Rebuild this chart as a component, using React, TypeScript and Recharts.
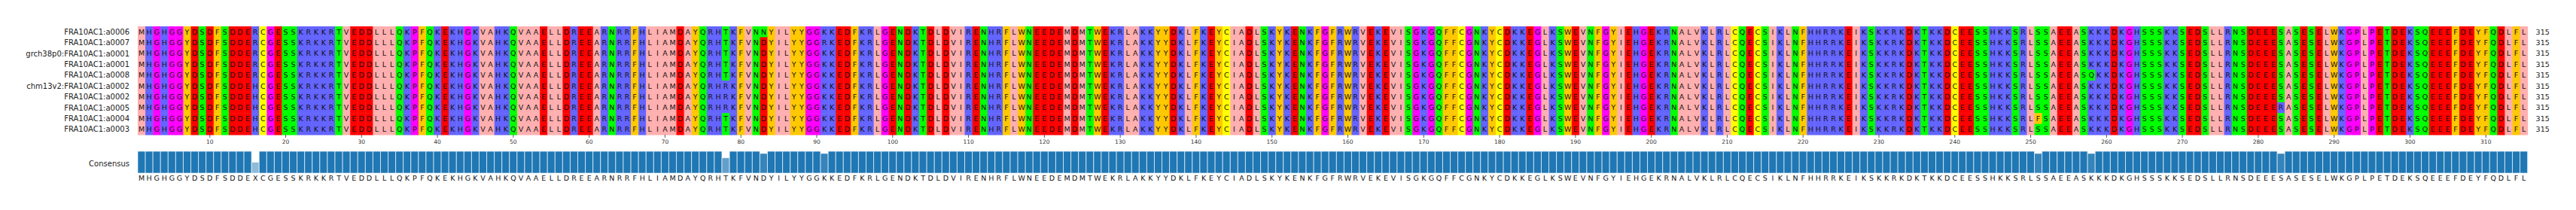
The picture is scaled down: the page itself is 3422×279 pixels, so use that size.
import React from 'react';
import { BarChart, Bar, XAxis, YAxis, Cell, LabelList } from 'recharts';

// alignment rows, top to bottom
const names = [
  'FRA10AC1:a0006',
  'FRA10AC1:a0007',
  'grch38p0:FRA10AC1:a0001',
  'FRA10AC1:a0001',
  'FRA10AC1:a0008',
  'chm13v2:FRA10AC1:a0002',
  'FRA10AC1:a0002',
  'FRA10AC1:a0005',
  'FRA10AC1:a0004',
  'FRA10AC1:a0003',
];

// sequence of the first row
const baseSeq =
  'MHGHGGYDSD' + 'FSDDERCGES' + 'SKRKKRTVED' + 'DLLLQKPFQK' + 'EKHGKVAHKQ' +
  'VAAELLDREE' + 'ARNRRFHLIA' + 'MDAYQRHTKF' + 'VNDYILYYGG' + 'KKEDFKRLGE' +
  'NDKTDLDVIR' + 'ENHRFLWNEE' + 'DEMDMTWEKR' + 'LAKKYYDKLF' + 'KEYCIADLSK' +
  'YKENKFGFRW' + 'RVEKEVISGK' + 'GQFFCGNKYC' + 'DKKEGLKSWE' + 'VNFGYIEHGE' +
  'KRNALVKLRL' + 'CQECSIKLNF' + 'HHRRKEIKSK' + 'KRKDKTKKDC' + 'EESSHKKSRL' +
  'SSAEEASKKK' + 'DKGHSSSKKS' + 'EDSLLRNSDE' + 'EESASESELW' + 'KGPLPETDEK' +
  'SQEEEFDEYF' + 'QDLFL';

// [row, position, residue] where a row differs from baseSeq
const variants: [number, number, string][] = [
  [5, 16, 'H'], [6, 16, 'H'], [7, 16, 'H'], [8, 16, 'H'], [9, 16, 'H'],
  [5, 78, 'R'], [6, 78, 'R'], [7, 78, 'R'],
  [0, 83, 'N'],
  [1, 91, 'R'],
  [8, 251, 'F'],
  [4, 258, 'Q'],
  [7, 283, 'R'],
];

// Zappo colour scheme
const zappo: Record<string, string> = {
  I: '#ffafaf', L: '#ffafaf', V: '#ffafaf', A: '#ffafaf', M: '#ffafaf',
  F: '#ffc800', W: '#ffc800', Y: '#ffc800',
  K: '#6464ff', R: '#6464ff', H: '#6464ff',
  D: '#ff0000', E: '#ff0000',
  S: '#00ff00', T: '#00ff00', N: '#00ff00', Q: '#00ff00',
  P: '#ff00ff', G: '#ff00ff',
  C: '#ffff00',
};

const FONT = '"DejaVu Sans", sans-serif';

const rows = names.map((_, r) => {
  const chars = baseSeq.split('');
  variants.filter((v) => v[0] === r).forEach(([, pos, aa]) => (chars[pos - 1] = aa));
  return chars.join('');
});
const seqLengths = rows.map((s) => s.replace(/-/g, '').length);
const positions = baseSeq.split('').map((_, i) => i + 1);

const msaData = positions.map((pos) => {
  const d: Record<string, number> = { pos };
  rows.forEach((_, r) => (d[`r${r}`] = 1));
  return d;
});

const consensusData = positions.map((pos, i) => {
  const counts: Record<string, number> = {};
  rows.forEach((s) => (counts[s[i]] = (counts[s[i]] || 0) + 1));
  const sorted = Object.entries(counts).sort((a, b) => b[1] - a[1]);
  const tie = sorted.length > 1 && sorted[1][1] === sorted[0][1];
  return { pos, letter: tie ? 'X' : sorted[0][0], identity: sorted[0][1] / rows.length };
});

const rowTicks = names.map((_, i) => i + 0.5);

function residueShape(r: number) {
  return (props: any) => {
    const { x, y, width, height, index } = props;
    const aa = rows[r][index];
    // reversed axis gives negative heights
    const top = height < 0 ? y + height : y;
    const h = Math.abs(height);
    return (
      <g>
        <rect x={x} y={top} width={width + 0.5} height={h + 0.5} fill={zappo[aa] || '#ffffff'} />
        <text
          x={x + width / 2}
          y={top + h / 2}
          dy="0.36em"
          textAnchor="middle"
          fontSize={9.5}
          fontFamily={FONT}
          fill="#111"
        >
          {aa}
        </text>
      </g>
    );
  };
}

// sequence length written right of the last column
function lengthLabel(r: number) {
  return (props: any) => {
    const { x, y, width, height, index } = props;
    if (index !== positions.length - 1) return null;
    return (
      <text x={x + width + 11} y={y + height / 2} dy="0.36em" fontSize={9.5} fontFamily={FONT} fill="#222">
        {seqLengths[r]}
      </text>
    );
  };
}

function PosTick({ x, y, payload }: any) {
  if (payload.value % 10 !== 0) return <g />;
  return (
    <g>
      <line x1={x} x2={x} y1={y - 6} y2={y - 2} stroke="#333" strokeWidth={0.8} />
      <text x={x} y={y} dy="0.75em" textAnchor="middle" fontSize={7.5} fontFamily={FONT} fill="#333">
        {payload.value}
      </text>
    </g>
  );
}

export default function App() {
  return (
    <div style={{ position: 'absolute', left: 0, top: 0, width: 3422, height: 279, background: '#fff' }}>
      {/* Alignment */}
      <BarChart
        width={3422}
        height={200}
        data={msaData}
        margin={{ top: 35, right: 64.3, bottom: 0, left: 0 }}
        barCategoryGap={0}
        barGap={0}
      >
        <XAxis
          dataKey="pos"
          interval={0}
          tick={<PosTick />}
          tickLine={false}
          axisLine={false}
          tickSize={4}
          tickMargin={2}
          height={21}
        />
        <YAxis
          type="number"
          domain={[0, 10]}
          reversed
          ticks={rowTicks}
          interval={0}
          tickFormatter={(v: number) => names[Math.floor(v)]}
          tick={{ fontSize: 10, fontFamily: FONT, fill: '#222' }}
          tickLine={false}
          axisLine={false}
          tickSize={0}
          tickMargin={11}
          width={183}
        />
        {rows.map((_, r) => (
          <Bar key={r} dataKey={`r${r}`} stackId="msa" shape={residueShape(r)} isAnimationActive={false}>
            <LabelList dataKey={`r${r}`} content={lengthLabel(r)} />
          </Bar>
        ))}
      </BarChart>

      {/* Consensus identity */}
      <BarChart
        width={3422}
        height={50}
        data={consensusData}
        margin={{ top: 1, right: 64.3, bottom: 0, left: 0 }}
        barCategoryGap={0}
        barGap={0}
      >
        <XAxis
          dataKey="pos"
          interval={0}
          tickFormatter={(_: any, i: number) => consensusData[i].letter}
          tick={{ fontSize: 9.5, fontFamily: FONT, fill: '#111' }}
          tickLine={false}
          axisLine={false}
          tickSize={0}
          tickMargin={3}
          height={20}
        />
        <YAxis
          type="number"
          domain={[0, 1]}
          ticks={[0.45]}
          tickFormatter={() => 'Consensus'}
          tick={{ fontSize: 10, fontFamily: FONT, fill: '#222' }}
          tickLine={false}
          axisLine={false}
          tickSize={0}
          tickMargin={11}
          width={183}
        />
        <Bar dataKey="identity" fill="#1f77b4" stroke="#ffffff" strokeWidth={0.8} strokeOpacity={0.75} isAnimationActive={false}>
          {consensusData.map((d) => (
            <Cell key={d.pos} fillOpacity={d.identity} />
          ))}
        </Bar>
      </BarChart>
    </div>
  );
}
